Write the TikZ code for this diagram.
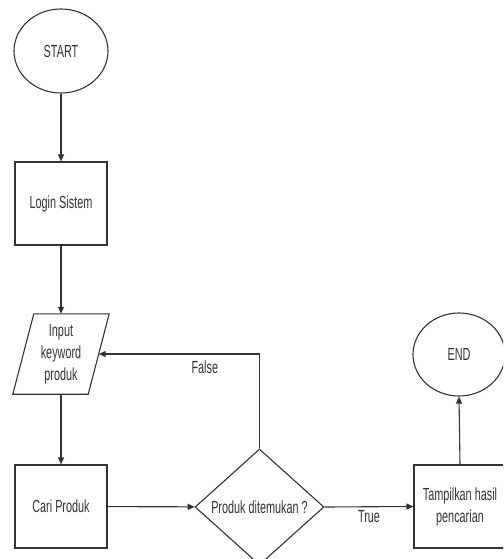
\documentclass[tikz,border=0pt]{standalone}
\usepackage{fontspec}
\setmainfont{Liberation Sans}[FakeStretch=0.62]
\usetikzlibrary{shapes.geometric,arrows.meta}

\tikzset{
  line/.style={draw=black!80, line width=1.1pt},
  flow/.style={line, -{Triangle[length=7pt,width=6pt]}},
  txt/.style={text=black!80, font=\fontsize{17.5}{22}\selectfont, align=center},
  term/.style={txt, line, ellipse, inner sep=0pt, minimum width=94pt, minimum height=84pt},
  proc/.style={txt, line, rectangle, inner sep=0pt, minimum width=92pt, minimum height=83pt},
  iobox/.style={txt, rectangle, inner sep=0pt, minimum width=75pt, minimum height=80pt},
  decision/.style={txt, line, diamond, inner sep=0pt, aspect=1.11, minimum width=129pt, minimum height=116pt},
  edgelabel/.style={txt, inner sep=3pt}
}

\begin{document}
\begin{tikzpicture}[x=1pt, y=-1pt]
  \clip (0,0) rectangle (503,559);
  \fill[white] (0,0) rectangle (503,559);

  % main column
  \node[term] (start) at (61,51) {START};
  \node[proc] (login) at (61,203.5) {Login Sistem};
  \node[iobox] (input) at (61,354) {Input\\keyword\\produk};
  % slanted outline of the input/output block
  \draw[line] ([xshift=10.5pt]input.north west) -- ([xshift=10.5pt]input.north east)
              -- ([xshift=-10.5pt]input.south east) -- ([xshift=-10.5pt]input.south west) -- cycle;
  \node[proc] (cari) at (61,506.5) {Cari Produk};

  % decision and result
  \node[decision] (found) at (259.5,507) {Produk ditemukan ?};
  \node[proc] (show) at (460,506.5) {Tampilkan hasil\\pencarian};
  \node[term, minimum width=92pt, minimum height=83pt] (end) at (459,354.5) {END};

  % connectors
  \draw[flow] (start) -- (login);
  \draw[flow] (login) -- (input);
  \draw[flow] (input) -- (cari);
  \draw[flow] (cari) -- (found);
  \draw[flow] (found.north) |- node[edgelabel, below, pos=0.67, inner sep=6pt] {False} (input.east);
  \draw[flow] (found.east) -- node[edgelabel, below] {True} (show.west);
  \draw[flow] (show.north) -- (end.south);
\end{tikzpicture}
\end{document}
